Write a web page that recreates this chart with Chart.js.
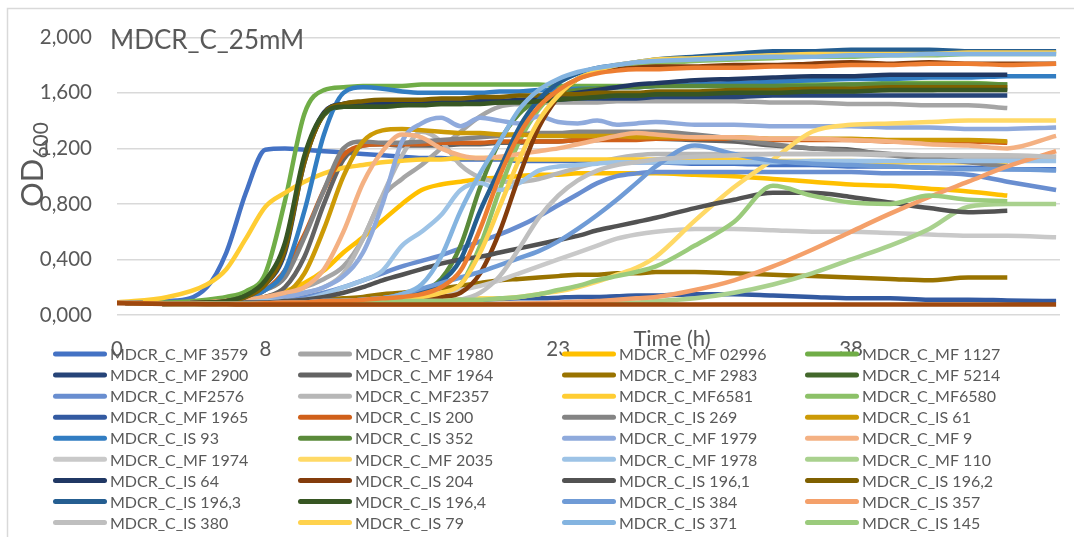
<!DOCTYPE html>
<html>
<head>
<meta charset="utf-8">
<title>MDCR_C_25mM</title>
<script src="https://cdn.jsdelivr.net/npm/chart.js@4.4.1/dist/chart.umd.min.js"></script>
<style>
  html, body { margin: 0; padding: 0; background: #fff; }
  canvas { display: block; }
</style>
</head>
<body>
<canvas id="odChart" width="1074" height="537"></canvas>
<script>
// sampling times (h), shared by every series
const times = [0.4, 3, 5, 6, 7, 8, 9, 10, 11, 12, 13, 14, 15, 16, 17, 18, 19, 20, 21, 22,
               23, 24, 25, 26, 27, 28, 30, 32, 34, 36, 38, 40, 42, 44, 46, 48.5];
const xTickValues = [0.4, 8, 23, 38];
const xTickLabels = ['0', '8', '23', '38'];

const chartTitle = 'MDCR_C_25mM';
const xTitle = 'Time (h)';

// OD600 readings, one array per strain
const mf3579 = [0.09,0.10,0.20,0.45,0.88,1.19,1.20,1.19,1.18,1.17,1.16,1.15,1.14,1.13,1.13,1.12,1.12,1.12,1.11,1.11,1.11,1.11,1.10,1.10,1.10,1.10,1.09,1.09,1.08,1.08,1.07,1.07,1.06,1.06,1.05,1.05];
const mf1980 = [0.09,0.08,0.085,0.09,0.10,0.12,0.15,0.20,0.26,0.35,0.55,0.85,0.98,1.08,1.20,1.32,1.43,1.50,1.52,1.53,1.53,1.53,1.53,1.54,1.54,1.54,1.54,1.54,1.53,1.53,1.52,1.52,1.51,1.51,1.49,null];
const mf02996 = [0.09,0.08,0.09,0.10,0.11,0.13,0.17,0.23,0.32,0.45,0.56,0.68,0.80,0.90,0.94,0.96,0.98,0.99,1.00,1.01,1.01,1.02,1.02,1.02,1.02,1.02,1.01,1.00,0.98,0.96,0.94,0.93,0.91,0.89,0.86,null];
const mf1127 = [0.09,0.09,0.11,0.13,0.17,0.30,0.82,1.45,1.62,1.64,1.65,1.65,1.65,1.66,1.66,1.66,1.66,1.66,1.66,1.66,1.65,1.65,1.65,1.65,1.65,1.65,1.65,1.65,1.66,1.66,1.66,1.67,1.67,1.67,1.66,null];
const mf2900 = [0.09,0.08,0.09,0.10,0.13,0.22,0.45,1.10,1.45,1.52,1.53,1.52,1.52,1.53,1.53,1.53,1.54,1.54,1.54,1.55,1.55,1.56,1.56,1.56,1.56,1.57,1.57,1.57,1.58,1.58,1.58,1.58,1.58,1.58,1.58,null];
const mf1964 = [0.09,0.08,0.09,0.10,0.11,0.13,0.20,0.42,0.80,1.12,1.22,1.23,1.22,1.22,1.22,1.23,1.23,1.24,1.24,1.25,1.25,1.26,1.26,1.27,1.27,1.27,1.26,1.25,1.22,1.20,1.19,1.15,1.13,1.12,1.08,null];
const mf2983 = [0.09,0.08,0.085,0.09,0.09,0.095,0.10,0.10,0.11,0.12,0.13,0.15,0.16,0.18,0.19,0.21,0.23,0.25,0.26,0.27,0.28,0.29,0.29,0.30,0.30,0.31,0.31,0.30,0.29,0.28,0.27,0.26,0.25,0.27,0.27,null];
const mf5214 = [0.09,0.08,0.09,0.10,0.14,0.24,0.50,1.12,1.44,1.50,1.51,1.50,1.51,1.52,1.52,1.52,1.53,1.53,1.54,1.55,1.56,1.57,1.57,1.58,1.58,1.59,1.60,1.60,1.61,1.61,1.62,1.62,1.62,1.63,1.63,null];
const mf2576 = [0.09,0.08,0.085,0.09,0.09,0.10,0.11,0.13,0.16,0.20,0.25,0.30,0.35,0.39,0.43,0.48,0.53,0.58,0.64,0.71,0.79,0.87,0.95,1.00,1.02,1.03,1.03,1.03,1.03,1.03,1.03,1.02,1.02,1.01,0.96,0.90];
const mf2357 = [0.09,0.08,0.09,0.10,0.10,0.11,0.13,0.16,0.20,0.30,0.55,0.86,1.15,1.32,1.25,1.08,0.99,0.96,0.96,0.98,1.02,1.06,1.10,1.13,1.15,1.16,1.16,1.16,1.16,1.16,1.16,1.15,1.15,1.14,1.14,1.14];
const mf6581 = [0.09,0.13,0.22,0.33,0.55,0.78,0.88,0.96,1.02,1.06,1.08,1.10,1.11,1.12,1.12,1.13,1.13,1.13,1.12,1.12,1.12,1.12,1.12,1.12,1.12,1.12,1.12,1.12,1.11,1.11,1.11,1.10,1.10,1.10,1.10,null];
const mf6580 = [0.09,0.08,0.08,0.08,0.08,0.08,0.08,0.08,0.085,0.09,0.09,0.10,0.11,0.12,0.15,0.22,0.50,0.90,1.25,1.48,1.62,1.70,1.75,1.78,1.80,1.81,1.83,1.84,1.85,1.86,1.86,1.87,1.87,1.88,1.88,1.88];
const mf1965 = [0.09,0.08,0.08,0.08,0.08,0.08,0.085,0.085,0.09,0.09,0.09,0.095,0.10,0.10,0.105,0.11,0.11,0.115,0.12,0.12,0.125,0.13,0.13,0.135,0.14,0.14,0.15,0.15,0.14,0.13,0.12,0.12,0.11,0.11,0.105,0.10];
const is200 = [0.09,0.08,0.09,0.10,0.12,0.18,0.32,0.58,0.90,1.15,1.22,1.23,1.23,1.23,1.24,1.24,1.24,1.25,1.25,1.25,1.25,1.26,1.26,1.26,1.26,1.27,1.27,1.27,1.26,1.26,1.26,1.25,1.25,1.25,1.24,null];
const is269 = [0.09,0.08,0.09,0.10,0.13,0.18,0.27,0.56,0.90,1.20,1.25,1.24,1.24,1.25,1.26,1.27,1.28,1.29,1.30,1.31,1.31,1.32,1.32,1.32,1.32,1.32,1.30,1.27,1.23,1.20,1.18,1.16,1.13,1.10,1.07,null];
const is61 = [0.09,0.08,0.09,0.10,0.11,0.12,0.15,0.30,0.62,1.00,1.25,1.33,1.34,1.33,1.32,1.31,1.31,1.30,1.30,1.29,1.29,1.29,1.29,1.29,1.28,1.28,1.28,1.28,1.27,1.27,1.27,1.26,1.26,1.26,1.25,null];
const is93 = [0.09,0.08,0.09,0.10,0.12,0.18,0.32,0.75,1.30,1.60,1.64,1.63,1.61,1.60,1.60,1.60,1.60,1.61,1.61,1.62,1.62,1.63,1.63,1.64,1.64,1.65,1.66,1.67,1.68,1.69,1.70,1.70,1.71,1.71,1.72,1.72];
const is352 = [0.09,0.08,0.08,0.08,0.08,0.085,0.09,0.09,0.10,0.10,0.11,0.12,0.14,0.17,0.26,0.50,0.92,1.25,1.45,1.55,1.60,1.62,1.63,1.64,1.64,1.65,1.65,1.65,1.65,1.65,1.66,1.66,1.66,1.66,1.66,null];
const mf1979 = [0.09,0.08,0.09,0.09,0.10,0.11,0.13,0.16,0.20,0.28,0.45,0.80,1.25,1.38,1.42,1.36,1.42,1.40,1.38,1.43,1.39,1.38,1.40,1.37,1.38,1.39,1.37,1.37,1.36,1.36,1.36,1.35,1.35,1.34,1.34,1.35];
const mf9 = [0.09,0.08,0.09,0.10,0.11,0.13,0.16,0.20,0.33,0.60,0.95,1.18,1.30,1.28,1.20,1.15,1.13,1.14,1.16,1.18,1.20,1.23,1.26,1.29,1.31,1.30,1.28,1.28,1.27,1.27,1.26,1.25,1.23,1.22,1.20,1.29];
const mf1974 = [0.09,0.08,0.08,0.08,0.08,0.09,0.09,0.09,0.10,0.10,0.11,0.12,0.13,0.14,0.16,0.18,0.21,0.25,0.30,0.35,0.40,0.45,0.50,0.55,0.58,0.60,0.62,0.62,0.61,0.60,0.60,0.59,0.58,0.57,0.57,0.56];
const mf2035 = [0.09,0.08,0.08,0.08,0.08,0.08,0.08,0.08,0.085,0.09,0.09,0.09,0.10,0.10,0.11,0.11,0.12,0.12,0.13,0.15,0.17,0.20,0.24,0.29,0.34,0.42,0.68,0.92,1.12,1.32,1.37,1.38,1.39,1.40,1.40,1.40];
const mf1978 = [0.09,0.08,0.08,0.09,0.09,0.10,0.10,0.11,0.15,0.20,0.25,0.32,0.50,0.60,0.72,0.90,0.95,0.90,0.95,1.04,1.07,1.08,1.09,1.10,1.10,1.10,1.10,1.10,1.10,1.11,1.11,1.11,1.11,1.11,1.11,1.11];
const mf110 = [0.09,0.08,0.08,0.08,0.08,0.08,0.08,0.08,0.08,0.08,0.08,0.08,0.08,0.08,0.08,0.08,0.08,0.08,0.08,0.08,0.08,0.085,0.085,0.09,0.09,0.10,0.12,0.16,0.22,0.30,0.40,0.50,0.62,0.78,0.80,0.80];
const is64 = [0.09,0.08,0.09,0.10,0.13,0.23,0.48,1.12,1.46,1.52,1.53,1.53,1.53,1.53,1.53,1.53,1.54,1.54,1.55,1.56,1.58,1.60,1.62,1.64,1.66,1.67,1.69,1.70,1.71,1.72,1.72,1.73,1.73,1.73,1.73,null];
const is204 = [0.09,0.08,0.08,0.08,0.08,0.08,0.08,0.08,0.085,0.09,0.09,0.10,0.10,0.11,0.13,0.16,0.30,0.60,1.00,1.35,1.57,1.70,1.75,1.77,1.78,1.79,1.79,1.80,1.80,1.81,1.82,1.81,1.82,1.81,1.81,1.81];
const is1961 = [0.09,0.08,0.08,0.08,0.09,0.09,0.10,0.11,0.13,0.16,0.20,0.25,0.29,0.33,0.37,0.40,0.42,0.45,0.48,0.51,0.54,0.57,0.61,0.64,0.67,0.70,0.77,0.83,0.88,0.88,0.85,0.81,0.77,0.74,0.75,null];
const is1962 = [0.09,0.08,0.09,0.10,0.13,0.22,0.47,1.10,1.45,1.52,1.54,1.55,1.55,1.55,1.56,1.56,1.57,1.57,1.58,1.58,1.59,1.59,1.60,1.60,1.60,1.61,1.61,1.62,1.62,1.63,1.63,1.64,1.64,1.64,1.64,null];
const is1963 = [0.09,0.08,0.08,0.08,0.08,0.085,0.09,0.09,0.10,0.10,0.11,0.12,0.14,0.17,0.24,0.40,0.75,1.05,1.35,1.55,1.67,1.74,1.78,1.80,1.82,1.84,1.86,1.88,1.90,1.90,1.91,1.91,1.91,1.90,1.90,1.90];
const is1964 = [0.09,0.08,0.09,0.10,0.14,0.25,0.52,1.15,1.45,1.50,1.50,1.50,1.51,1.51,1.52,1.52,1.52,1.53,1.53,1.54,1.55,1.56,1.57,1.58,1.58,1.59,1.59,1.60,1.60,1.61,1.61,1.62,1.62,1.62,1.62,null];
const is384 = [0.09,0.08,0.08,0.08,0.08,0.08,0.09,0.09,0.10,0.10,0.11,0.12,0.15,0.19,0.23,0.27,0.31,0.36,0.41,0.46,0.53,0.62,0.72,0.83,0.95,1.07,1.22,1.16,1.11,1.09,1.08,1.07,1.06,1.05,1.05,1.04];
const is357 = [0.09,0.08,0.08,0.075,0.075,0.075,0.075,0.075,0.075,0.075,0.075,0.075,0.075,0.075,0.075,0.075,0.078,0.08,0.082,0.085,0.09,0.095,0.10,0.11,0.12,0.13,0.18,0.25,0.35,0.47,0.60,0.73,0.85,0.96,1.07,1.18];
const is380 = [0.09,0.08,0.08,0.08,0.08,0.08,0.085,0.09,0.09,0.10,0.10,0.10,0.10,0.10,0.10,0.11,0.16,0.28,0.48,0.70,0.86,0.97,1.04,1.08,1.10,1.12,1.14,1.15,1.16,1.16,1.16,1.16,1.15,1.15,1.15,1.14];
const is79 = [0.09,0.08,0.08,0.08,0.08,0.08,0.085,0.09,0.09,0.10,0.10,0.11,0.12,0.13,0.16,0.22,0.45,0.78,1.12,1.40,1.58,1.70,1.76,1.80,1.82,1.84,1.85,1.86,1.87,1.88,1.88,1.88,1.88,1.89,1.89,1.89];
const is371 = [0.09,0.08,0.08,0.08,0.08,0.085,0.09,0.09,0.10,0.10,0.11,0.12,0.15,0.22,0.42,0.75,1.02,1.25,1.48,1.62,1.70,1.75,1.78,1.80,1.82,1.83,1.84,1.85,1.86,1.86,1.87,1.87,1.88,1.88,1.88,1.88];
const is145 = [0.09,0.08,0.08,0.08,0.08,0.08,0.08,0.08,0.085,0.09,0.09,0.09,0.10,0.10,0.10,0.11,0.11,0.12,0.13,0.15,0.18,0.21,0.25,0.28,0.31,0.35,0.50,0.67,0.93,0.86,0.81,0.80,0.86,0.83,0.82,null];

// two more curves are plotted but have no legend entry in the picture
const unlistedOrange = [0.09,0.08,0.08,0.08,0.08,0.085,0.09,0.09,0.10,0.10,0.11,0.12,0.13,0.15,0.20,0.32,0.62,1.00,1.30,1.50,1.62,1.70,1.74,1.76,1.77,1.77,1.78,1.78,1.79,1.79,1.80,1.80,1.81,1.81,1.80,1.81];
const unlistedBrown = [0.085,0.08,0.078,0.077,0.076,0.075,0.075,0.075,0.075,0.075,0.075,0.075,0.075,0.075,0.075,0.075,0.075,0.075,0.075,0.075,0.075,0.075,0.075,0.075,0.075,0.075,0.075,0.075,0.075,0.075,0.075,0.075,0.075,0.075,0.075,0.075];

// legend order (row by row, four columns)
const strainNames = [
    'MDCR_C_MF 3579', 'MDCR_C_MF 1980', 'MDCR_C_MF 02996', 'MDCR_C_MF 1127',
    'MDCR_C_MF 2900', 'MDCR_C_MF 1964', 'MDCR_C_MF 2983', 'MDCR_C_MF 5214',
    'MDCR_C_MF2576', 'MDCR_C_MF2357', 'MDCR_C_MF6581', 'MDCR_C_MF6580',
    'MDCR_C_MF 1965', 'MDCR_C_IS 200', 'MDCR_C_IS 269', 'MDCR_C_IS 61',
    'MDCR_C_IS 93', 'MDCR_C_IS 352', 'MDCR_C_MF 1979', 'MDCR_C_MF 9',
    'MDCR_C_MF 1974', 'MDCR_C_MF 2035', 'MDCR_C_MF 1978', 'MDCR_C_MF 110',
    'MDCR_C_IS 64', 'MDCR_C_IS 204', 'MDCR_C_IS 196,1', 'MDCR_C_IS 196,2',
    'MDCR_C_IS 196,3', 'MDCR_C_IS 196,4', 'MDCR_C_IS 384', 'MDCR_C_IS 357',
    'MDCR_C_IS 380', 'MDCR_C_IS 79', 'MDCR_C_IS 371', 'MDCR_C_IS 145'
];
const strainValues = [
    mf3579, mf1980, mf02996, mf1127,
    mf2900, mf1964, mf2983, mf5214,
    mf2576, mf2357, mf6581, mf6580,
    mf1965, is200, is269, is61,
    is93, is352, mf1979, mf9,
    mf1974, mf2035, mf1978, mf110,
    is64, is204, is1961, is1962,
    is1963, is1964, is384, is357,
    is380, is79, is371, is145
];
const strainColors = [
    '#4472C4', '#A5A5A5', '#FFC000', '#70AD47',
    '#264478', '#636363', '#997300', '#43682B',
    '#698ED0', '#B7B7B7', '#FFCD33', '#8CC168',
    '#335AA1', '#D0601A', '#848484', '#CC9A06',
    '#327DC2', '#5A8A3A', '#8FAADC', '#F4B183',
    '#C9C9C9', '#FFD966', '#9DC3E6', '#A9D18E',
    '#203864', '#843C0C', '#525252', '#7F6000',
    '#255E91', '#375623', '#6F9BD6', '#F4A06A',
    '#BFBFBF', '#FFD24D', '#84B4E0', '#9BCB7C'
];
const unlistedValues = [unlistedOrange, unlistedBrown];
const unlistedColors = ['#ED7D31', '#9E480E'];

const fontFamily = 'Lato, "Open Sans", sans-serif';
const textColor = '#595959';
Chart.defaults.font.family = fontFamily;
Chart.defaults.color = textColor;

const allValues = strainValues.concat(unlistedValues);
const allColors = strainColors.concat(unlistedColors);
const allNames = strainNames.concat(['', '']);

const datasets = allValues.map(function (values, i) {
    return {
        label: allNames[i],
        data: times.map((t, j) => ({ x: t, y: values[j] })),
        borderColor: allColors[i],
        backgroundColor: allColors[i],
        borderWidth: 4.5,
        pointRadius: 0,
        cubicInterpolationMode: 'monotone',
        // later series sit on top, like the original spreadsheet
        order: allValues.length - i
    };
});

// frame, titles and the 4-column legend
const decorPlugin = {
    id: 'decor',
    beforeDraw(chart) {
        const ctx = chart.ctx;
        ctx.save();
        ctx.strokeStyle = '#D9D9D9';
        ctx.lineWidth = 1.5;
        ctx.beginPath();
        ctx.moveTo(7.5, 600);
        ctx.lineTo(7.5, 8.5);
        ctx.lineTo(1100, 8.5);
        ctx.stroke();
        ctx.restore();
    },
    afterDraw(chart) {
        const ctx = chart.ctx;
        ctx.save();
        ctx.fillStyle = textColor;
        ctx.textAlign = 'left';
        ctx.textBaseline = 'alphabetic';

        ctx.font = '26px ' + fontFamily;
        ctx.fillText(chartTitle, 110, 49);

        ctx.font = '22px ' + fontFamily;
        ctx.textAlign = 'center';
        ctx.fillText(xTitle, 672, 346);

        // OD with subscript 600, rotated
        ctx.save();
        ctx.translate(43, 207);
        ctx.rotate(-Math.PI / 2);
        ctx.textAlign = 'left';
        ctx.font = '31px ' + fontFamily;
        ctx.fillText('OD', 0, 0);
        const odWidth = ctx.measureText('OD').width;
        ctx.font = '21px ' + fontFamily;
        ctx.fillText('600', odWidth, 5);
        ctx.restore();

        // legend
        const colX = [53, 298, 562, 805];
        ctx.font = '16px ' + fontFamily;
        ctx.textAlign = 'left';
        ctx.textBaseline = 'middle';
        ctx.lineCap = 'round';
        ctx.lineWidth = 5;
        strainNames.forEach(function (name, i) {
            const x = colX[i % 4];
            const y = 354 + Math.floor(i / 4) * 21.07;
            ctx.strokeStyle = strainColors[i];
            ctx.beginPath();
            ctx.moveTo(x + 2.5, y);
            ctx.lineTo(x + 51.5, y);
            ctx.stroke();
            ctx.fillText(name, x + 57, y + 1);
        });
        ctx.restore();
    }
};

new Chart(document.getElementById('odChart'), {
    type: 'line',
    data: { datasets: datasets },
    options: {
        responsive: false,
        animation: false,
        devicePixelRatio: 1,
        layout: { padding: { left: 0, right: 14, top: 23, bottom: 0 } },
        scales: {
            x: {
                type: 'linear',
                min: 0.4,
                max: 48.7,
                afterBuildTicks: function (axis) {
                    axis.ticks = xTickValues.map(v => ({ value: v }));
                },
                afterFit: function (axis) { axis.height = 222; },
                ticks: {
                    callback: (value, index) => xTickLabels[index],
                    font: { size: 20.5 },
                    color: textColor,
                    padding: 22,
                    maxRotation: 0,
                    autoSkip: false
                },
                grid: { display: false, drawTicks: false },
                border: { display: false }
            },
            y: {
                min: 0,
                max: 2,
                afterFit: function (axis) { axis.width = 117; },
                ticks: {
                    stepSize: 0.4,
                    callback: value => value.toFixed(3).replace('.', ','),
                    font: { size: 20.5 },
                    color: textColor,
                    padding: 25
                },
                grid: { color: '#D9D9D9', lineWidth: 1.5, drawTicks: false },
                border: { display: false }
            }
        },
        plugins: {
            legend: { display: false },
            tooltip: { enabled: false }
        }
    },
    plugins: [decorPlugin]
});
</script>
</body>
</html>
